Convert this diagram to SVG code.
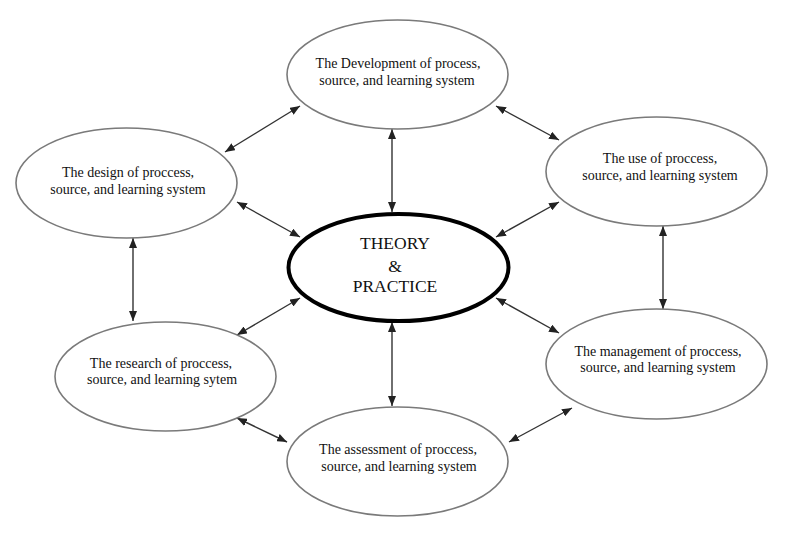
<svg xmlns="http://www.w3.org/2000/svg" width="796" height="535" viewBox="0 0 796 535">
<style>
.node ellipse{fill:#fff;stroke:#7a7a7a;stroke-width:1.6}
#center ellipse{stroke:#000;stroke-width:4}
text{font-family:"Liberation Serif","Times New Roman",serif;font-size:14px;fill:#111;text-anchor:middle}
#center text{font-size:17.5px}
.conn line{stroke:#333;stroke-width:1.4;marker-start:url(#ah);marker-end:url(#ah)}
</style>
<defs>
<marker id="ah" viewBox="0 0 10 8" refX="10" refY="4" markerWidth="10" markerHeight="8" markerUnits="userSpaceOnUse" orient="auto-start-reverse">
<path d="M0,0 L10,4 L0,8 z" fill="#222"/>
</marker>
</defs>
<rect width="796" height="535" fill="#fff"/>
<g class="conn" id="connectors">
<line x1="225" y1="152" x2="300" y2="106"/>
<line x1="496" y1="106" x2="559" y2="140"/>
<line x1="237" y1="202" x2="300" y2="237"/>
<line x1="496" y1="237" x2="559" y2="202"/>
<line x1="392" y1="129" x2="392" y2="212"/>
<line x1="133" y1="238" x2="133" y2="321"/>
<line x1="663" y1="226" x2="663" y2="309"/>
<line x1="237" y1="335" x2="300" y2="298"/>
<line x1="496" y1="298" x2="559" y2="333"/>
<line x1="392" y1="322" x2="392" y2="406"/>
<line x1="237" y1="418" x2="287" y2="442"/>
<line x1="509" y1="442" x2="572" y2="408"/>
</g>
<g class="node" id="development">
<ellipse cx="397.5" cy="74.5" rx="110.5" ry="54.5"/>
<text x="398" y="68">The Development of process,</text>
<text x="397" y="85">source, and learning system</text>
</g>
<g class="node" id="design">
<ellipse cx="126.5" cy="183" rx="110.5" ry="55"/>
<text x="128" y="177">The design of proccess,</text>
<text x="128" y="194">source, and learning system</text>
</g>
<g class="node" id="use">
<ellipse cx="656.5" cy="171.5" rx="110.5" ry="54.5"/>
<text x="660" y="163">The use of proccess,</text>
<text x="660" y="180">source, and learning system</text>
</g>
<g class="node" id="center">
<ellipse cx="398.5" cy="267.5" rx="110" ry="53.5"/>
<text x="395" y="249">THEORY</text>
<text x="395" y="272">&amp;</text>
<text x="395" y="292">PRACTICE</text>
</g>
<g class="node" id="research">
<ellipse cx="165.5" cy="376.5" rx="110.5" ry="54.5"/>
<text x="161" y="368">The research of proccess,</text>
<text x="162" y="384">source, and learning sytem</text>
</g>
<g class="node" id="management">
<ellipse cx="656.5" cy="364" rx="110.5" ry="55"/>
<text x="658" y="356">The management of proccess,</text>
<text x="658" y="372">source, and learning system</text>
</g>
<g class="node" id="assessment">
<ellipse cx="397.5" cy="461.5" rx="110.5" ry="54.5"/>
<text x="398" y="454">The assessment of proccess,</text>
<text x="399" y="471">source, and learning system</text>
</g>
</svg>
